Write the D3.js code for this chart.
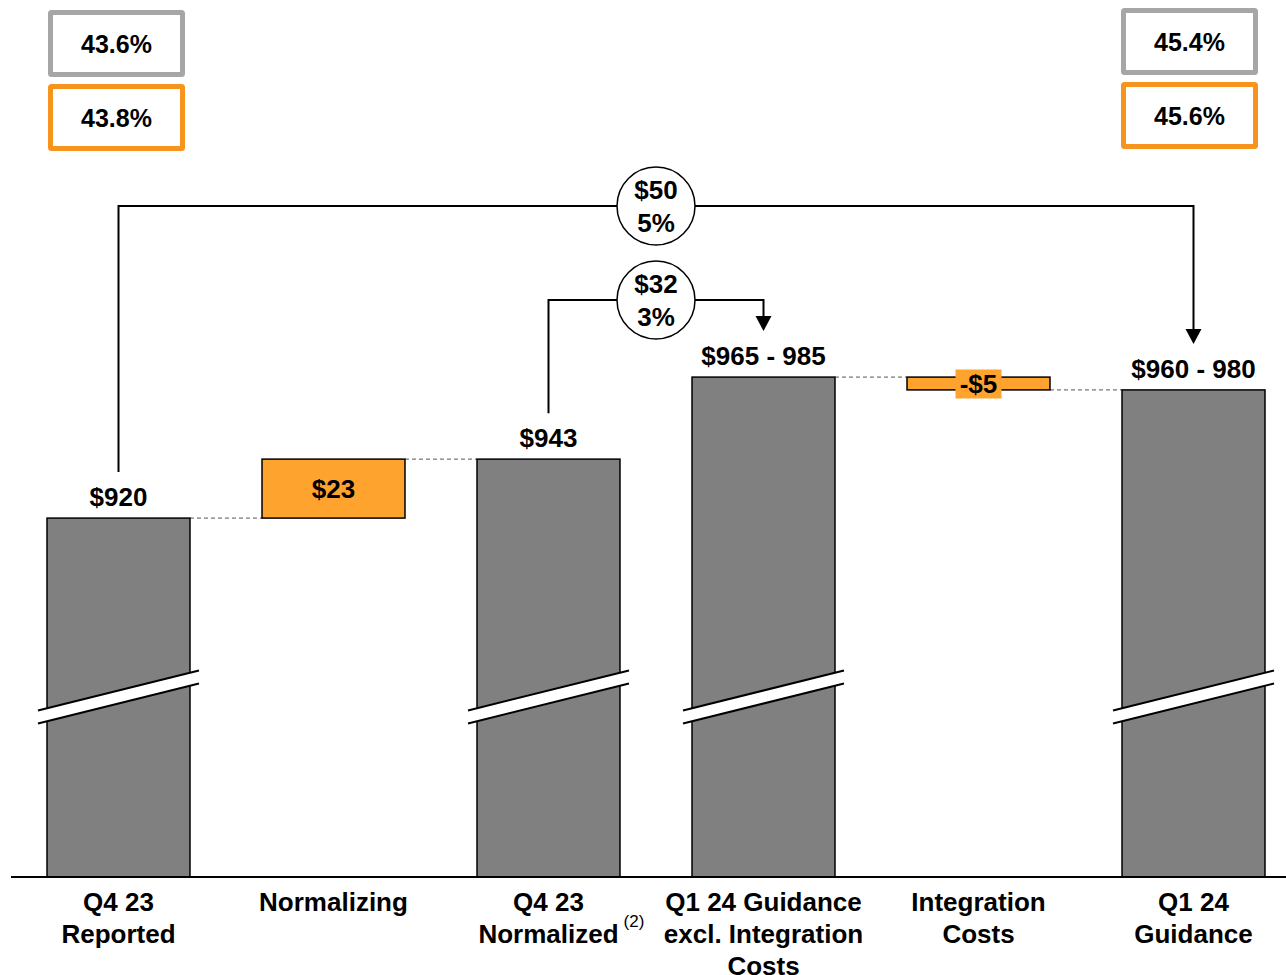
<!DOCTYPE html>
<html><head><meta charset="utf-8">
<script src="https://cdn.jsdelivr.net/npm/d3@7"></script>
<style>body{margin:0;background:#fff}svg{display:block}text{font-family:"Liberation Sans",Arial,sans-serif;font-weight:bold;fill:#000}</style>
</head><body>
<script>
const categories = ["Q4 23 Reported","Normalizing","Q4 23 Normalized","Q1 24 Guidance excl. Integration Costs","Integration Costs","Q1 24 Guidance"];
const categoryLines = [["Q4 23","Reported"],["Normalizing"],["Q4 23","Normalized"],["Q1 24 Guidance","excl. Integration","Costs"],["Integration","Costs"],["Q1 24","Guidance"]];
const barType = ["total","delta","total","total","delta","total"];
const barStart = [780, 920, 780, 780, 975, 780];
const barEnd = [920, 943, 943, 975, 970, 970];
const valueLabels = ["$920","$23","$943","$965 - 985","-$5","$960 - 980"];
const marginTopLeft = ["43.6%","43.8%"];
const marginTopRight = ["45.4%","45.6%"];
const bridgeFrom = [0, 2];
const bridgeTo = [5, 3];
const bridgeLabels = [["$50","5%"],["$32","3%"]];

const W=1286,H=975;
const svg=d3.select("body").append("svg").attr("width",W).attr("height",H);
const x=d3.scaleBand().domain(categories).range([11,1301]).paddingInner(0.335).paddingOuter(0.1675);
const y=d3.scaleLinear().domain([780,1000]).range([877,313]);
const bw=x.bandwidth();
const cx=i=>x(categories[i])+bw/2;
const GRAY="#808080", ORANGE="#FFA32F", BORDER_OR="#F7941D", BORDER_GR="#A6A6A6";

// connectors (only into/out of delta bars)
for(let i=0;i<categories.length-1;i++){
  if(barType[i]!=="delta" && barType[i+1]!=="delta") continue;
  const v=barEnd[i];
  svg.append("line").attr("x1",x(categories[i])+bw).attr("x2",x(categories[i+1]))
    .attr("y1",y(v)).attr("y2",y(v)).attr("stroke","#555").attr("stroke-width",1).attr("stroke-dasharray","4,3");
}
// bars
categories.forEach((c,i)=>{
  const top=Math.min(y(barStart[i]),y(barEnd[i])), bot=Math.max(y(barStart[i]),y(barEnd[i]));
  svg.append("rect").attr("x",x(c)).attr("y",top).attr("width",bw).attr("height",bot-top)
    .attr("fill",barType[i]==="total"?GRAY:ORANGE).attr("stroke","#000").attr("stroke-width",1.5);
});
// break marks
categories.forEach((c,i)=>{
  if(barType[i]!=="total")return;
  const x0=x(c)-9,x1=x(c)+bw+9,ym=697,dy=40,g=13;
  svg.append("path").attr("d",`M${x0},${ym+dy/2-g/2}L${x1},${ym-dy/2-g/2}L${x1},${ym-dy/2+g/2}L${x0},${ym+dy/2+g/2}Z`).attr("fill","#fff");
  [-g/2,g/2].forEach(o=>svg.append("line").attr("x1",x0).attr("y1",ym+dy/2+o).attr("x2",x1).attr("y2",ym-dy/2+o).attr("stroke","#000").attr("stroke-width",2));
});
// baseline
svg.append("line").attr("x1",11).attr("x2",W).attr("y1",877).attr("y2",877).attr("stroke","#000").attr("stroke-width",2);

// value labels
categories.forEach((c,i)=>{
  const t=valueLabels[i];
  if(barType[i]==="total"){
    svg.append("text").attr("x",cx(i)).attr("y",y(barEnd[i])-12).attr("text-anchor","middle").attr("font-size",26).text(t);
  } else {
    const ym=(y(barStart[i])+y(barEnd[i]))/2;
    if(Math.abs(y(barStart[i])-y(barEnd[i]))<30){
      svg.append("rect").attr("x",cx(i)-23).attr("y",ym-14).attr("width",46).attr("height",29).attr("fill",ORANGE);
    }
    svg.append("text").attr("x",cx(i)).attr("y",ym+9).attr("text-anchor","middle").attr("font-size",26).text(t);
  }
});

// category labels
categoryLines.forEach((lines,i)=>{
  const t=svg.append("text").attr("text-anchor","middle").attr("font-size",26);
  lines.forEach((l,j)=>t.append("tspan").attr("x",cx(i)).attr("y",911+j*32).text(l));
});
svg.append("text").attr("x",634).attr("y",927).attr("text-anchor","middle").attr("font-size",17).style("font-weight","normal").text("(2)");

// bridges
const bridgeY=[206,300];
bridgeFrom.forEach((f,k)=>{
  const t=bridgeTo[k];
  const ys=y(barEnd[f])-46, ye=y(barEnd[t])-46, yh=bridgeY[k];
  const x0=cx(f), x1=cx(t);
  svg.append("path").attr("d",`M${x0},${ys}V${yh}H${x1}V${ye-14}`).attr("fill","none").attr("stroke","#000").attr("stroke-width",2);
  svg.append("path").attr("d",`M${x1-8},${ye-15}L${x1+8},${ye-15}L${x1},${ye}Z`).attr("fill","#000");
  const mx=(x0+x1)/2;
  svg.append("circle").attr("cx",mx).attr("cy",yh).attr("r",39).attr("fill","#fff").attr("stroke","#000").attr("stroke-width",1.5);
  svg.append("text").attr("x",mx).attr("y",yh-7).attr("text-anchor","middle").attr("font-size",26).text(bridgeLabels[k][0]);
  svg.append("text").attr("x",mx).attr("y",yh+26).attr("text-anchor","middle").attr("font-size",26).text(bridgeLabels[k][1]);
});

// margin boxes
function box(x0,y0,w,h,col,txt){
  svg.append("rect").attr("x",x0).attr("y",y0).attr("width",w).attr("height",h).attr("fill","#fff").attr("stroke",col).attr("stroke-width",5).attr("rx",1);
  svg.append("text").attr("x",x0+w/2).attr("y",y0+h/2+9).attr("text-anchor","middle").attr("font-size",25).text(txt);
}
box(50.5,12.5,132,62,BORDER_GR,marginTopLeft[0]);
box(50.5,86.5,132,62,BORDER_OR,marginTopLeft[1]);
box(1123.5,10.5,132,62,BORDER_GR,marginTopRight[0]);
box(1123.5,84.5,132,62,BORDER_OR,marginTopRight[1]);
</script>
</body></html>
